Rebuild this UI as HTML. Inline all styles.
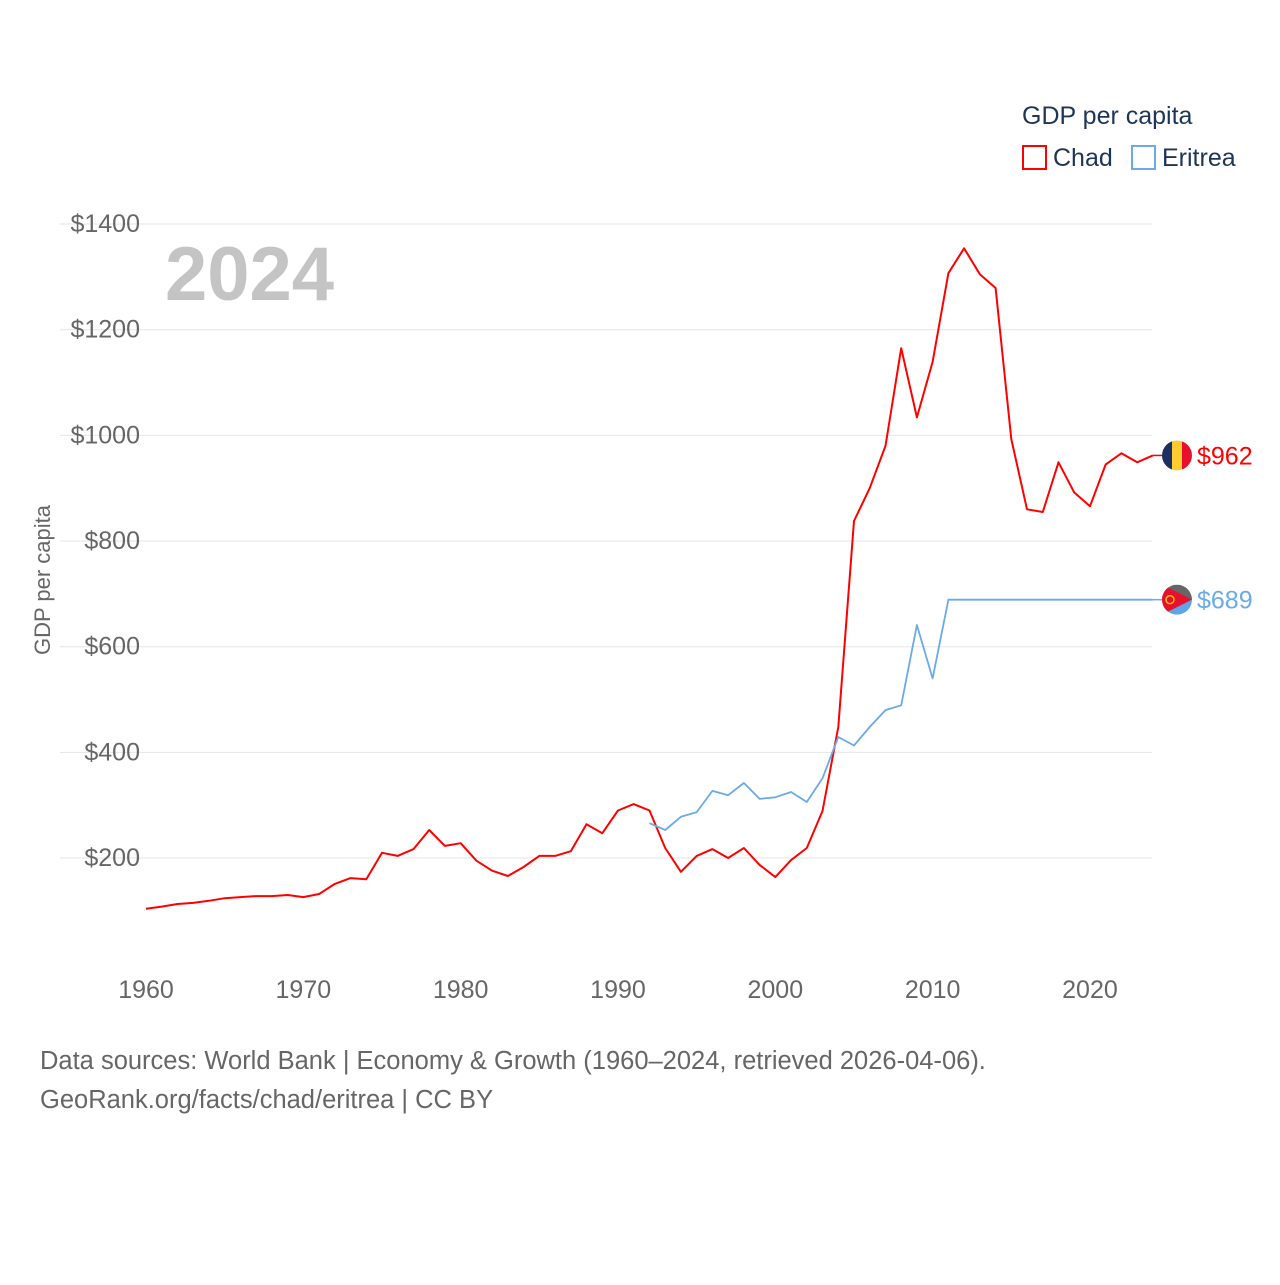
<!DOCTYPE html>
<html><head><meta charset="utf-8"><style>
body{margin:0;background:#fff;}
svg text{font-family:"Liberation Sans",sans-serif;}
</style></head><body>
<svg id="chart" width="1280" height="1280" xmlns="http://www.w3.org/2000/svg">
<rect width="1280" height="1280" fill="#fff"/>
<g id="grid"></g>
<g id="lines"></g>
<text x="165" y="300" font-size="76" font-weight="bold" fill="#c4c4c4">2024</text>
<text transform="translate(50,580) rotate(-90)" text-anchor="middle" font-size="22" fill="#666">GDP per capita</text>
<text x="1022" y="124" font-size="25" fill="#1d3557">GDP per capita</text>
<g><rect x="1023" y="146" width="23" height="23" fill="none" stroke="#ff0000" stroke-width="2"/><text x="1053" y="166" font-size="25" fill="#1d3557">Chad</text></g>
<g><rect x="1132" y="146" width="23" height="23" fill="none" stroke="#6aaae8" stroke-width="2"/><text x="1162" y="166" font-size="25" fill="#1d3557">Eritrea</text></g>
<text x="40" y="1069" font-size="25.5" fill="#666">Data sources: World Bank | Economy &amp; Growth (1960–2024, retrieved 2026-04-06).</text>
<text x="40" y="1108" font-size="25.5" fill="#666">GeoRank.org/facts/chad/eritrea | CC BY</text>
</svg>
<script>
const chadYears=[];for(let y=1960;y<=2024;y++)chadYears.push(y);
const chadValues=[104,108,113,115,119,124,126,128,128,130,126,132,151,162,160,210,204,217,253,223,228,195,176,166,183,204,204,213,264,247,290,302,290,219,174,204,217,200,219,187,164,196,219,289,448,838,900,980,1165,1034,1139,1307,1354,1305,1279,993,860,855,949,892,866,945,966,949,962];
const eritreaYears=[];for(let y=1992;y<=2024;y++)eritreaYears.push(y);
const eritreaValues=[266,253,278,287,327,319,342,312,315,325,306,351,429,413,448,480,489,641,540,689,689,689,689,689,689,689,689,689,689,689,689,689,689];
const yTicks=[200,400,600,800,1000,1200,1400];
const xTicks=[1960,1970,1980,1990,2000,2010,2020];
const NS="http://www.w3.org/2000/svg";
const xs=y=>146+(y-1960)*15.733;
const ys=v=>963.7-v*0.52833;
function mk(t,a,p){const e=document.createElementNS(NS,t);for(const k in a)e.setAttribute(k,a[k]);p.appendChild(e);return e;}
const grid=document.getElementById('grid'),lines=document.getElementById('lines');
yTicks.forEach(v=>{
 const l=mk('line',{x1:60,x2:1152,y1:ys(v),y2:ys(v),stroke:'#e6e6e6','stroke-width':1},grid);
 
 
 const t=mk('text',{x:140,y:ys(v)+8,'text-anchor':'end','font-size':25,fill:'#666'},grid);t.textContent='$'+v;
 
 
});
xTicks.forEach(y=>{
 const t=mk('text',{x:xs(y),y:998,'text-anchor':'middle','font-size':25,fill:'#666'},grid);t.textContent=y;
 
 
});
function series(years,vals,color,name){
 const d=years.map((y,i)=>(i?'L':'M')+xs(y).toFixed(1)+','+ys(vals[i]).toFixed(1)).join(' ');
 const p=mk('path',{d:d,fill:'none',stroke:color,'stroke-width':name==='chad'?2:1.8,'stroke-linejoin':'round'},lines);
 
 
 const last=vals[vals.length-1],ly=ys(last);
 mk('line',{x1:xs(years[years.length-1]),x2:1165,y1:ly,y2:ly,stroke:color,'stroke-width':1.5},lines);
 const t=mk('text',{x:1197,y:ly+9,'font-size':25,fill:color},lines);t.textContent='$'+last;
 
 
 return ly;
}
const cy=series(chadYears,chadValues,'#ff0000','chad');
const ey=series(eritreaYears,eritreaValues,'#6aaae8','eritrea');
const defs=mk('defs',{},document.getElementById('chart'));
const c1=mk('clipPath',{id:'cf'},defs);mk('circle',{cx:1177,cy:cy,r:15},c1);
const c2=mk('clipPath',{id:'ef'},defs);mk('circle',{cx:1177,cy:ey,r:15},c2);
const f1=mk('g',{'clip-path':'url(#cf)'},lines);


mk('rect',{x:1162,y:cy-15,width:10,height:30,fill:'#1d2f5e'},f1);
mk('rect',{x:1172,y:cy-15,width:10,height:30,fill:'#fecb30'},f1);
mk('rect',{x:1182,y:cy-15,width:10,height:30,fill:'#e8112d'},f1);
const f2=mk('g',{'clip-path':'url(#ef)'},lines);


mk('rect',{x:1162,y:ey-15,width:30,height:15,fill:'#666'},f2);
mk('rect',{x:1162,y:ey,width:30,height:15,fill:'#5ea4e8'},f2);
mk('polygon',{points:`1162,${ey-15} 1192,${ey} 1162,${ey+15}`,fill:'#e8112d'},f2);
mk('circle',{cx:1170,cy:ey,r:4,fill:'none',stroke:'#f5c400','stroke-width':1.5},f2);
</script>
</body></html>
